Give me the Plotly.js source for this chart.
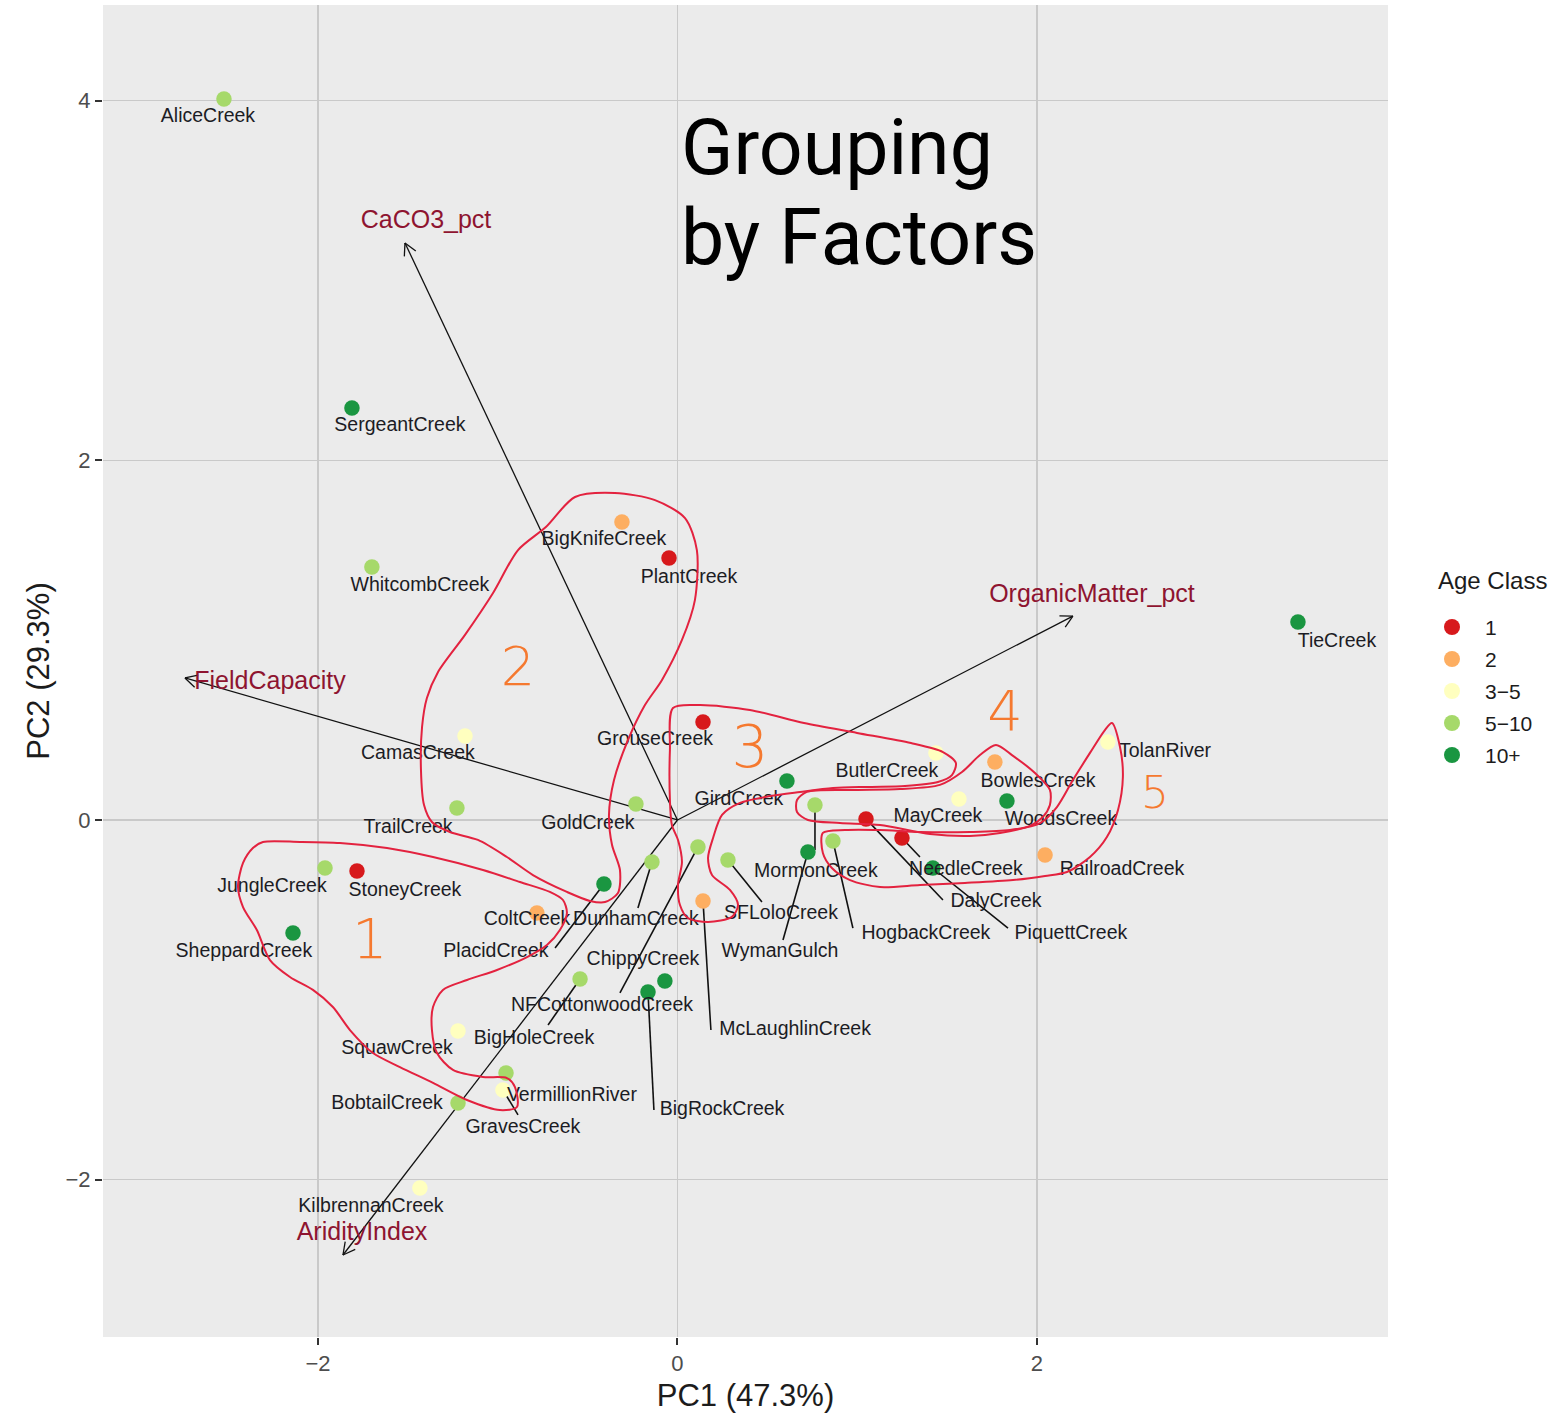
<!DOCTYPE html>
<html><head><meta charset="utf-8">
<script src="https://cdn.plot.ly/plotly-3.0.1.min.js"></script>
<style>body{margin:0;background:#fff}</style>
</head><body><div id="chart" style="width:1563px;height:1418px"></div>
<script>
// ---- site scores (PC1, PC2) and age class ----
const sites = ['AliceCreek','SergeantCreek','WhitcombCreek','BigKnifeCreek','PlantCreek','TieCreek','CamasCreek','GrouseCreek','TolanRiver','ButlerCreek',
 'BowlesCreek','GirdCreek','WoodsCreek','MayCreek','TrailCreek','GoldCreek','MormonCreek','DalyCreek','NeedleCreek','PiquettCreek',
 'HogbackCreek','WymanGulch','RailroadCreek','SFLoloCreek','NFCottonwoodCreek','DunhamCreek','PlacidCreek','ColtCreek','McLaughlinCreek','ChippyCreek',
 'BigRockCreek','BigHoleCreek','JungleCreek','StoneyCreek','SheppardCreek','SquawCreek','VermillionRiver','BobtailCreek','GravesCreek','KilbrennanCreek'];
const pc1 = [-2.523,-1.811,-1.700,-0.309,-0.047,3.452,-1.182,0.142,2.395,1.438,
 1.766,0.609,1.833,1.566,-1.227,-0.231,0.765,1.049,1.249,1.421,
 0.865,0.726,2.045,0.281,0.114,-0.142,-0.409,-0.782,0.142,-0.070,
 -0.164,-0.542,-1.961,-1.783,-2.139,-1.221,-0.954,-1.221,-0.971,-1.433];
const pc2 = [4.009,2.291,1.407,1.657,1.457,1.101,0.467,0.545,0.434,0.373,
 0.323,0.217,0.106,0.117,0.067,0.089,0.083,0.006,-0.100,-0.267,
 -0.117,-0.178,-0.195,-0.222,-0.150,-0.234,-0.356,-0.517,-0.450,-0.895,
 -0.956,-0.884,-0.267,-0.284,-0.628,-1.173,-1.407,-1.574,-1.501,-2.046];
const ageClass = ['5-10','10+','5-10','2','1','10+','3-5','1','3-5','3-5',
 '2','10+','10+','3-5','5-10','5-10','5-10','1','1','10+',
 '5-10','10+','2','5-10','5-10','5-10','10+','2','2','10+',
 '10+','5-10','5-10','1','10+','3-5','5-10','5-10','3-5','3-5'];
// repelled label positions (PC1, PC2) as placed in the figure
const labelPC1 = [-2.612,-1.544,-1.433,-0.409,0.064,3.669,-1.444,-0.125,2.712,1.165,
 2.006,0.342,2.134,1.449,-1.499,-0.498,0.770,1.772,1.605,2.189,
 1.382,0.570,2.473,0.576,-0.420,-0.231,-1.010,-0.837,0.654,-0.192,
 0.248,-0.798,-2.256,-1.516,-2.412,-1.560,-0.587,-1.616,-0.860,-1.705];
const labelPC2 = [3.909,2.191,1.301,1.557,1.346,0.990,0.367,0.445,0.378,0.267,
 0.211,0.111,0.000,0.017,-0.044,-0.022,-0.289,-0.456,-0.278,-0.634,
 -0.634,-0.734,-0.278,-0.523,-1.034,-0.556,-0.734,-0.556,-1.168,-0.778,
 -1.613,-1.218,-0.373,-0.395,-0.734,-1.273,-1.535,-1.579,-1.713,-2.152];
// leader-line ends (null = no leader)
const leaderPC1 = [null,null,null,null,null,null,null,null,null,null,
 null,null,null,null,null,null,0.765,1.477,1.349,1.839,
 0.976,0.587,null,0.470,-0.320,-0.220,-0.681,null,0.186,null,
 -0.131,-0.720,null,null,null,null,null,null,-0.887,null];
const leaderPC2 = [null,null,null,null,null,null,null,null,null,null,
 null,null,null,null,null,null,-0.167,-0.445,-0.206,-0.601,
 -0.601,-0.667,null,-0.456,-0.962,-0.489,-0.712,null,-1.168,null,
 -1.613,-1.140,null,null,null,null,null,null,-1.640,null];

const classes = ['1','2','3-5','5-10','10+'];
const classLabels = ['1','2','3\u22125','5\u221210','10+'];
const classColors = ['#d7191c','#fdae61','#ffffbf','#a6d96a','#1a9641'];
const legendTitle = 'Age Class';

// ---- variable loadings ----
const loadingNames = ['CaCO3_pct','FieldCapacity','OrganicMatter_pct','AridityIndex'];
const loadingPC1 = [-1.516,-2.740,2.200,-1.861];
const loadingPC2 = [3.209,0.790,1.134,-2.419];
const loadingLabelPC1 = [-1.399,-2.267,2.306,-1.755];
const loadingLabelPC2 = [3.325,0.762,1.246,-2.302];

// ---- hand-drawn group outlines ----
const group1X = [-2.306,-2.100,-1.878,-1.616,-1.360,-1.082,-0.876,-0.710,-0.637,-0.615,-0.654,-0.726,-0.837,-1.004,-1.171,-1.305,-1.360,-1.366,-1.338,-1.249,-1.082,-0.949,-0.904,-0.893,-0.988,-1.171,-1.360,-1.544,-1.694,-1.822,-1.917,-2.028,-2.156,-2.267,-2.340,-2.417,-2.445,-2.417,-2.362,-2.306];
const group1Y = [-0.122,-0.122,-0.128,-0.156,-0.206,-0.278,-0.345,-0.400,-0.445,-0.517,-0.612,-0.695,-0.762,-0.834,-0.890,-0.945,-1.040,-1.168,-1.296,-1.390,-1.429,-1.435,-1.485,-1.596,-1.613,-1.557,-1.462,-1.374,-1.296,-1.168,-1.040,-0.945,-0.873,-0.779,-0.612,-0.484,-0.373,-0.239,-0.156,-0.122];
const group2X = [-0.570,-0.348,-0.125,0.042,0.108,0.097,0.025,-0.086,-0.181,-0.275,-0.353,-0.381,-0.364,-0.320,-0.331,-0.403,-0.487,-0.615,-0.804,-0.949,-1.110,-1.266,-1.366,-1.410,-1.427,-1.421,-1.394,-1.332,-1.182,-1.026,-0.887,-0.732,-0.570];
const group2Y = [1.796,1.818,1.779,1.679,1.501,1.223,1.001,0.779,0.639,0.445,0.222,0.028,-0.139,-0.278,-0.406,-0.456,-0.450,-0.400,-0.306,-0.206,-0.111,-0.067,-0.011,0.083,0.278,0.517,0.678,0.823,1.029,1.262,1.501,1.629,1.796];
const group3X = [-0.025,0.125,0.403,0.704,0.999,1.299,1.477,1.549,1.527,1.449,1.266,1.071,0.865,0.682,0.515,0.348,0.248,0.198,0.170,0.192,0.292,0.337,0.303,0.170,0.058,0.014,0.003,0.025,0.003,-0.031,-0.042,-0.042,-0.025];
const group3Y = [0.623,0.639,0.612,0.539,0.484,0.428,0.378,0.317,0.250,0.211,0.189,0.184,0.178,0.156,0.133,0.095,0.028,-0.100,-0.211,-0.306,-0.389,-0.473,-0.539,-0.567,-0.545,-0.473,-0.361,-0.234,-0.111,-0.028,0.111,0.389,0.623];
const group4X = [0.720,0.960,1.238,1.460,1.583,1.683,1.772,1.861,1.989,2.072,2.072,2.033,1.961,1.794,1.627,1.405,1.127,0.904,0.726,0.665,0.665,0.720];
const group4Y = [0.156,0.167,0.172,0.195,0.267,0.361,0.417,0.361,0.261,0.167,0.083,0.017,-0.033,-0.072,-0.089,-0.078,-0.028,-0.017,0.000,0.044,0.111,0.156];
const group5X = [0.809,0.809,0.859,0.960,1.127,1.349,1.599,1.867,2.045,2.167,2.295,2.389,2.451,2.478,2.462,2.417,2.378,2.295,2.200,2.111,2.017,1.850,1.627,1.349,1.127,0.932,0.809];
const group5Y = [-0.072,-0.184,-0.267,-0.334,-0.373,-0.361,-0.350,-0.334,-0.311,-0.289,-0.206,-0.095,0.056,0.239,0.406,0.539,0.500,0.373,0.222,0.072,-0.017,-0.056,-0.067,-0.067,-0.056,-0.056,-0.072];
const groupNumbers = ['1','2','3','4','5'];
const groupNumberPC1 = [-1.711,-0.887,0.403,1.822,2.657];
const groupNumberPC2 = [-0.690,0.823,0.378,0.578,0.128];
const groupNumberSize = [56,54,58,56,44];

const traces = [];

// loading arrows (shaft + open head)
const ax = [], ay = [];
const head = 0.075, ang = 28 * Math.PI / 180;
for (let i = 0; i < loadingNames.length; i++) {
  const x = loadingPC1[i], y = loadingPC2[i];
  ax.push(0, x, null); ay.push(0, y, null);
  const L = Math.hypot(x, y), dx = x / L, dy = y / L;
  for (const s of [1, -1]) {
    const c = Math.cos(s * ang), sn = Math.sin(s * ang);
    const rx = dx * c - dy * sn, ry = dx * sn + dy * c;
    ax.push(x, x - head * rx, null); ay.push(y, y - head * ry, null);
  }
}
traces.push({x: ax, y: ay, mode: 'lines', line: {color: '#111', width: 1.3}, hoverinfo: 'skip', showlegend: false});

// leader lines
const lx = [], ly = [];
for (let i = 0; i < sites.length; i++) {
  if (leaderPC1[i] === null) continue;
  lx.push(pc1[i], leaderPC1[i], null); ly.push(pc2[i], leaderPC2[i], null);
}
traces.push({x: lx, y: ly, mode: 'lines', line: {color: '#111', width: 1.6}, hoverinfo: 'skip', showlegend: false});

// points by class
classes.forEach((c, k) => {
  const idx = ageClass.map((a, i) => a === c ? i : -1).filter(i => i >= 0);
  traces.push({
    x: idx.map(i => pc1[i]), y: idx.map(i => pc2[i]), text: idx.map(i => sites[i]),
    mode: 'markers', type: 'scatter', name: classLabels[k], showlegend: false,
    marker: {color: classColors[k], size: 15.5, line: {width: 0}}
  });
});

// site labels
traces.push({x: labelPC1, y: labelPC2, text: sites, mode: 'text', textposition: 'middle center',
  textfont: {family: 'Liberation Sans, Arial, sans-serif', size: 19.5, color: '#1c1c24'},
  hoverinfo: 'skip', showlegend: false, cliponaxis: false});

// loading labels
traces.push({x: loadingLabelPC1, y: loadingLabelPC2, text: loadingNames, mode: 'text', textposition: 'middle center',
  textfont: {family: 'Liberation Sans, Arial, sans-serif', size: 25, color: '#8e1430'},
  hoverinfo: 'skip', showlegend: false});

// hand-drawn outlines
[[group1X, group1Y], [group2X, group2Y], [group3X, group3Y], [group4X, group4Y], [group5X, group5Y]].forEach(g => {
  traces.push({x: g[0], y: g[1], mode: 'lines', line: {color: '#e3223f', width: 2, shape: 'spline', smoothing: 0.8},
    hoverinfo: 'skip', showlegend: false});
});

// group numbers
traces.push({x: groupNumberPC1, y: groupNumberPC2, text: groupNumbers, mode: 'text', textposition: 'middle center',
  textfont: {family: 'DejaVu Sans, sans-serif', size: groupNumberSize, color: '#f5792f', weight: 300},
  hoverinfo: 'skip', showlegend: false});

// ---- legend (drawn in the right margin, paper coordinates) ----
const plotL = 103, plotW = 1285, plotB = 1337, plotH = 1332;
const px2paperX = p => (p - plotL) / plotW;
const px2paperY = p => (plotB - p) / plotH;
const legShapes = [], legAnn = [];
legAnn.push({xref: 'paper', yref: 'paper', x: px2paperX(1436), y: px2paperY(580), xanchor: 'left', yanchor: 'middle',
  text: legendTitle, showarrow: false, font: {size: 24, color: '#1c1c1c'}});
classes.forEach((c, k) => {
  const cy = px2paperY(627 + 32 * k);
  legShapes.push({type: 'circle', xref: 'paper', yref: 'paper', xsizemode: 'pixel', ysizemode: 'pixel',
    xanchor: px2paperX(1452), yanchor: cy, x0: -8, x1: 8, y0: -8, y1: 8,
    fillcolor: classColors[k], line: {width: 0}});
  legAnn.push({xref: 'paper', yref: 'paper', x: px2paperX(1483), y: cy, xanchor: 'left', yanchor: 'middle',
    text: classLabels[k], showarrow: false, font: {size: 21, color: '#1c1c1c'}});
});

const layout = {
  width: 1563, height: 1418,
  margin: {l: 103, r: 175, t: 5, b: 81},
  paper_bgcolor: '#ffffff', plot_bgcolor: '#ebebeb',
  font: {family: 'Liberation Sans, Arial, sans-serif', color: '#222'},
  showlegend: false,
  xaxis: {range: [-3.196, 3.953], tickvals: [-2, 0, 2], ticks: 'outside', ticklen: 7, tickwidth: 2, tickcolor: '#333',
    showgrid: true, gridcolor: '#c9c9c9', gridwidth: 1.6, zeroline: false, showline: false,
    tickfont: {size: 22, color: '#4d4d4d'},
    title: {text: 'PC1 (47.3%)', font: {size: 31, color: '#1c1c1c'}, standoff: 8}},
  yaxis: {range: [-2.875, 4.532], tickvals: [-2, 0, 2, 4], ticks: 'outside', ticklen: 7, tickwidth: 2, tickcolor: '#333',
    showgrid: true, gridcolor: '#c9c9c9', gridwidth: 1.6, zeroline: false, showline: false,
    tickfont: {size: 22, color: '#4d4d4d'},
    title: {text: 'PC2 (29.3%)', font: {size: 31, color: '#1c1c1c'}, standoff: 6}},
  shapes: legShapes,
  annotations: [
    {x: 0.008, y: 3.737, xref: 'x', yref: 'y', xanchor: 'left', yanchor: 'middle', text: 'Grouping', showarrow: false,
      font: {family: 'Roboto, sans-serif', size: 77, color: '#000'}},
    {x: 0.008, y: 3.236, xref: 'x', yref: 'y', xanchor: 'left', yanchor: 'middle', text: 'by Factors', showarrow: false,
      font: {family: 'Roboto, sans-serif', size: 77, color: '#000'}}
  ].concat(legAnn)
};

Plotly.newPlot('chart', traces, layout, {displayModeBar: false, staticPlot: true});
</script></body></html>
